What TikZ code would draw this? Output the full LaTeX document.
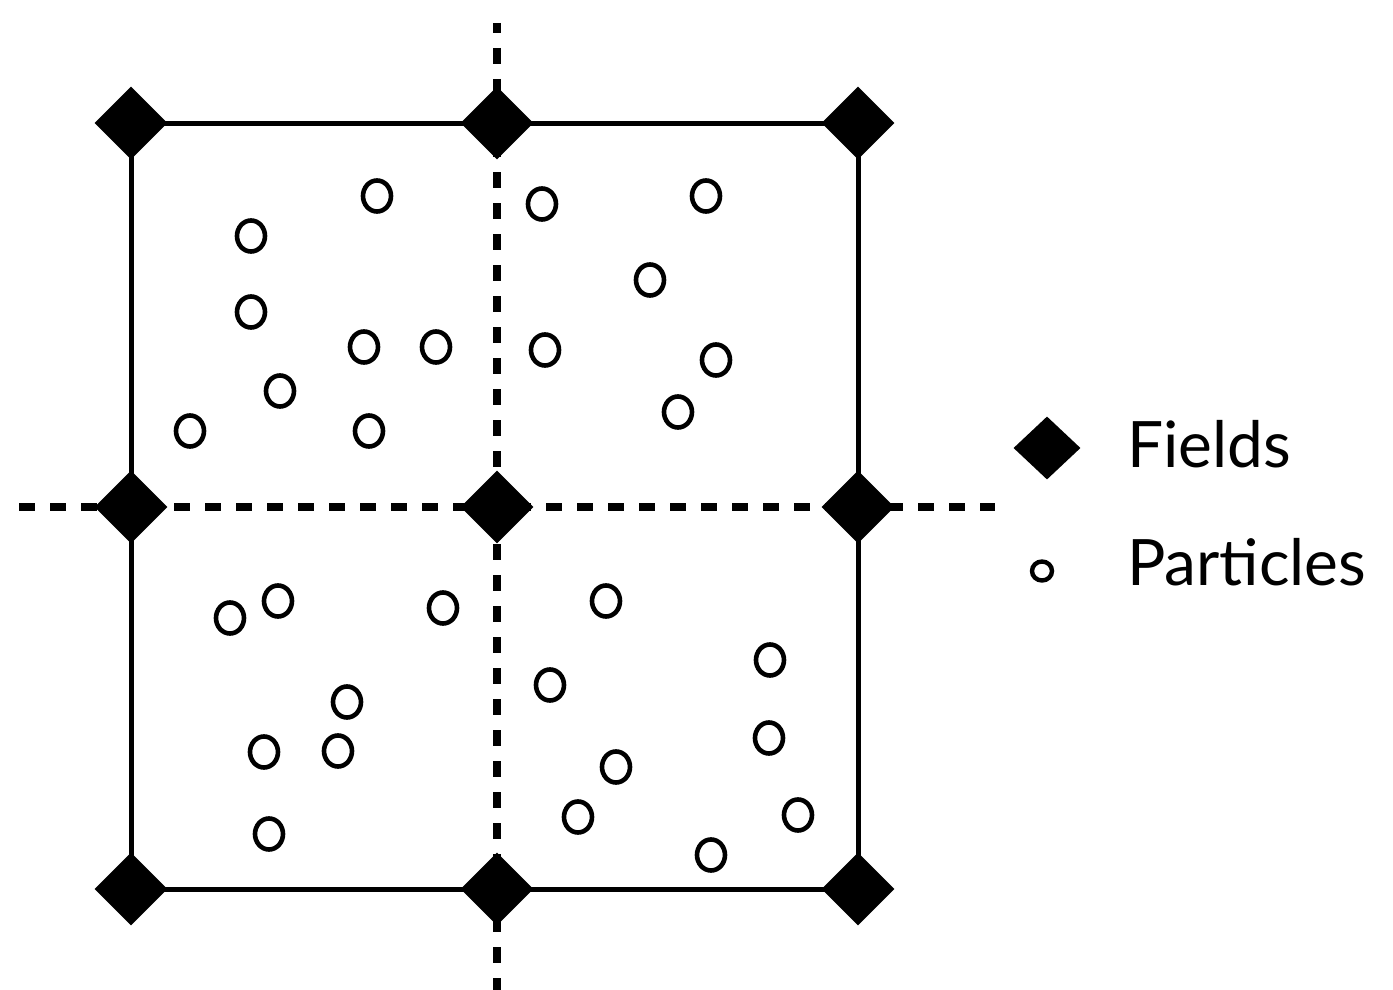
\documentclass[tikz,border=0pt]{standalone}
\usepackage{fontspec}
\setmainfont{Lato}
\usetikzlibrary{shapes.geometric}
\begin{document}
\begin{tikzpicture}[x=1pt,y=-1pt,
  field/.style={diamond,fill=black,inner sep=0pt,minimum width=73pt,minimum height=73pt},
  particle/.style={ellipse,draw=black,line width=4.6pt,inner sep=0pt,minimum width=28pt,minimum height=31pt},
  legparticle/.style={ellipse,draw=black,line width=4.4pt,inner sep=0pt,minimum width=20pt,minimum height=19pt},
  edge/.style={line width=5pt},
  cellline/.style={line width=8pt,dash pattern=on 16pt off 15pt},
  legtext/.style={anchor=base west,inner sep=0pt,font=\fontsize{64}{74}\selectfont}]
\useasboundingbox (0,0) rectangle (1393,990);
% grid points
\coordinate (tl) at (131,123);
\coordinate (tm) at (497,123);
\coordinate (tr) at (858,123);
\coordinate (ml) at (131,507);
\coordinate (mm) at (497,507);
\coordinate (mr) at (858,507);
\coordinate (bl) at (131,889);
\coordinate (bm) at (497,889);
\coordinate (br) at (858,889);
\coordinate (hl) at (19,507);
\coordinate (hr) at (995,507);
\coordinate (vt) at (497,23);
\coordinate (vb) at (497,990);
% solid cell borders
\draw[edge] (tl) -- (tm) -- (tr) -- (mr) -- (br) -- (bm) -- (bl) -- (ml) -- cycle;
% dashed domain lines
\draw[cellline] (hl) -- (hr);
\draw[cellline,dash phase=6pt] (vt) -- (vb);
% field nodes
\foreach \p in {tl,tm,tr,ml,mm,mr,bl,bm,br}
  \node[field] (f-\p) at (\p) {};
% particles
\foreach \x/\y [count=\i] in {
  377/196, 251/236, 251/312, 364/347, 436/347, 280/391, 190/431, 369/431,
  542/204, 706/196, 650/280, 545/350, 716/360, 678/412,
  230/618, 278/601, 443/608, 347/702, 264/752, 338/751, 269/834,
  606/601, 770/660, 550/685, 769/738, 616/767, 578/817, 798/815, 711/855}
  \node[particle] (p\i) at (\x,\y) {};
% legend
\node[field,minimum width=67pt,minimum height=63pt] (legfield) at (1047,448) {};
\node[legparticle] (legpart) at (1042,571) {};
\node[legtext] (legfieldtext) at (1127,467) {Fields};
\node[legtext] (legparttext) at (1127,585) {Particles};
\end{tikzpicture}
\end{document}
